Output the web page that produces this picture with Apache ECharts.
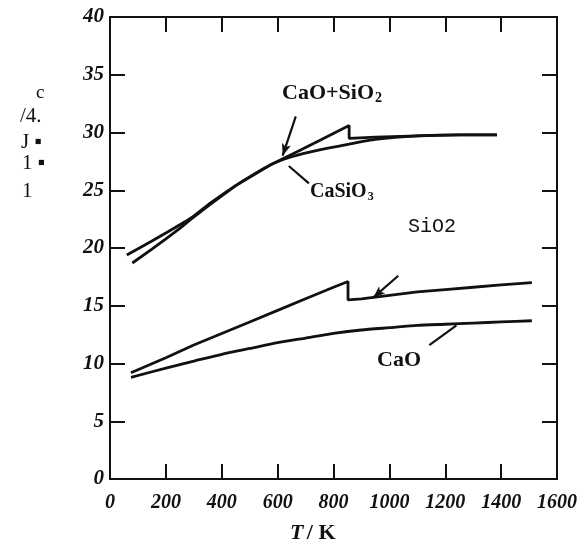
<!DOCTYPE html>
<html><head><meta charset="utf-8">
<script src="https://cdn.jsdelivr.net/npm/echarts@6/dist/echarts.min.js"></script>
<style>html,body{margin:0;padding:0;background:#fff}#c{width:582px;height:547px}</style>
</head><body><div id="c"></div>
<script>
// Temperature ticks and values
const xTicks = [0, 200, 400, 600, 800, 1000, 1200, 1400, 1600];
const yTicks = [0, 5, 10, 15, 20, 25, 30, 35, 40];

const cao_sio2 = [[80,18.7],[150,19.9],[200,20.8],[250,21.7],[290,22.5],[360,23.8],[450,25.4],[575,27.2],[650,28.1],[750,29.3],[856,30.6],[856,29.5],[950,29.6],[1100,29.7],[1250,29.8],[1385,29.8]];
const casio3   = [[60,19.4],[150,20.6],[200,21.3],[290,22.6],[360,23.9],[450,25.4],[575,27.2],[650,27.9],[750,28.5],[856,29.0],[950,29.4],[1100,29.7],[1250,29.8],[1385,29.8]];
const sio2     = [[75,9.2],[200,10.5],[300,11.6],[400,12.6],[500,13.6],[600,14.6],[700,15.6],[800,16.6],[852,17.1],[852,15.5],[900,15.6],[1000,15.9],[1100,16.2],[1200,16.4],[1300,16.6],[1400,16.8],[1510,17.0]];
const cao      = [[75,8.8],[200,9.6],[300,10.2],[400,10.8],[500,11.3],[600,11.8],[700,12.2],[800,12.6],[900,12.9],[1000,13.1],[1100,13.3],[1200,13.4],[1300,13.5],[1400,13.6],[1510,13.7]];

// leader lines (data coordinates): [from, to(tip)]
const leaderCaOSiO2 = [[665,31.4],[618,28.0]];
const leaderCaSiO3  = [[712,25.6],[640,27.1]];
const leaderSiO2    = [[1032,17.6],[942,15.7]];
const leaderCaO     = [[1143,11.6],[1240,13.3]];

const chart = echarts.init(document.getElementById('c'), null, {renderer:'canvas'});
const black = '#111';
const lineStyle = {color: black, width: 2.8};
function lineSeries(name, data, smooth) {
  return {name, type:'line', data, showSymbol:false, symbol:'none', smooth:smooth||false,
    lineStyle, xAxisIndex:0, yAxisIndex:0, z:3};
}
function leader(data, arrow) {
  return {type:'line', data, showSymbol:false, symbol: 'none', silent:true,
    lineStyle:{color:black, width:2.2}, xAxisIndex:0, yAxisIndex:0, z:4,
    markLine: arrow ? {silent:true, symbol:['none','arrow'], symbolSize:[7,12],
      label:{show:false}, lineStyle:{color:black,width:0.01,type:'solid'},
      data:[[{coord:data[0]},{coord:data[1]}]]} : undefined};
}
const axisCommon = {
  axisLine:{show:true, onZero:false, lineStyle:{color:black,width:2}},
  axisTick:{show:true, inside:true, length:15, lineStyle:{color:black,width:2}},
  splitLine:{show:false}
};
const labelFont = {color:black, fontFamily:'Liberation Serif', fontStyle:'italic', fontWeight:'bold', fontSize:21};
chart.setOption({
  animation:false,
  backgroundColor:'#fff',
  grid:{left:110, right:25, top:17, bottom:68},
  xAxis:[
    Object.assign({type:'value', min:0, max:1600, interval:200, position:'bottom',
      axisLabel:Object.assign({margin:14, formatter:v=>String(v)}, labelFont, {fontSize:20})}, axisCommon),
    Object.assign({type:'value', min:0, max:1600, interval:200, position:'top',
      axisLabel:{show:false}}, axisCommon)
  ],
  yAxis:[
    Object.assign({type:'value', min:0, max:40, interval:5, position:'left',
      axisLabel:Object.assign({margin:6, padding:[4,0,0,0]}, labelFont)}, axisCommon),
    Object.assign({type:'value', min:0, max:40, interval:5, position:'right',
      axisLabel:{show:false}}, axisCommon)
  ],
  series:[
    lineSeries('CaO+SiO2', cao_sio2),
    lineSeries('CaSiO3', casio3, 0.2),
    lineSeries('SiO2', sio2),
    lineSeries('CaO', cao, 0.2),
    leader(leaderCaOSiO2, true),
    leader(leaderCaSiO3, false),
    leader(leaderSiO2, true),
    leader(leaderCaO, false)
  ],
  graphic:[
    {type:'text', left:282, top:82, style:{text:'{a|CaO+SiO}{s|2}', rich:{
      a:{fontFamily:'Liberation Serif', fontWeight:'bold', fontSize:22, fill:black},
      s:{fontFamily:'Liberation Serif', fontWeight:'bold', fontSize:14, fill:black, padding:[10,0,0,1]}}}},
    {type:'text', left:310, top:182, style:{text:'{a|CaSiO}{s|3}', rich:{
      a:{fontFamily:'Liberation Serif', fontWeight:'bold', fontSize:20, fill:black},
      s:{fontFamily:'Liberation Serif', fontWeight:'bold', fontSize:12, fill:black, padding:[9,0,0,1]}}}},
    {type:'text', left:408, top:217, style:{text:'SiO2', font:'20px "Liberation Mono"', fill:black}},
    {type:'text', left:377, top:349, style:{text:'CaO', font:'bold 22px "Liberation Serif"', fill:black}},
    {type:'text', left:290, top:522, style:{text:'{t|T} {k|/ K}', rich:{
      t:{fontFamily:'Liberation Serif', fontWeight:'bold', fontStyle:'italic', fontSize:22, fill:black},
      k:{fontFamily:'Liberation Serif', fontWeight:'bold', fontSize:22, fill:black}}}},
    {type:'text', left:36, top:84, style:{text:'c', font:'19px "Liberation Serif"', fill:black}},
    {type:'text', left:20, top:106, style:{text:'/4.', font:'21px "Liberation Serif"', fill:black}},
    {type:'text', left:21, top:132, style:{text:'J ▪', font:'21px "Liberation Serif"', fill:black}},
    {type:'text', left:22, top:153, style:{text:'1 ▪', font:'21px "Liberation Serif"', fill:black}},
    {type:'text', left:22, top:181, style:{text:'1', font:'21px "Liberation Serif"', fill:black}}
  ]
});
</script></body></html>
